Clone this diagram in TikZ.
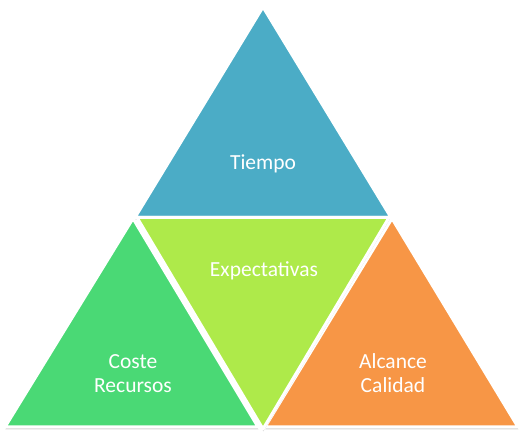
\documentclass[tikz,border=0pt]{standalone}
\usepackage{fontspec}
\setmainfont{Carlito}
\usetikzlibrary{shadows}
\definecolor{cblue}{HTML}{4BACC6}
\definecolor{cgreen}{HTML}{4AD975}
\definecolor{clime}{HTML}{AEEA4A}
\definecolor{corange}{HTML}{F79646}
\tikzset{
  tri/.style={draw=white, line width=3pt, line join=round,
    drop shadow={shadow xshift=0.4pt, shadow yshift=-2.3pt, opacity=0.28, fill=black!60}},
  lbl/.style={text=white, font=\fontsize{21.5}{24}\selectfont, inner sep=0pt, align=center}
}
\begin{document}
\begin{tikzpicture}[x=1pt,y=-1pt]
\useasboundingbox (0,0) rectangle (528,438);
\fill[white] (0,0) rectangle (528,438);
% top
\path[tri, fill=cblue] (263,7) -- (391,217.5) -- (135,217.5) -- cycle;
% left
\path[tri, fill=cgreen] (133,218.5) -- (258,427) -- (5,427) -- cycle;
% right
\path[tri, fill=corange] (392,218.5) -- (518,427) -- (265,427) -- cycle;
% middle
\path[tri, fill=clime] (137,217.5) -- (389,217.5) -- (263,429) -- cycle;
\node[lbl, anchor=base] (tiempo) at (263,170) {Tiempo};
\node[lbl, anchor=base] (expect) at (264,277) {Expectativas};
\node[lbl, anchor=center] (coste) at (133,373.5) {Coste\\Recursos};
\node[lbl, anchor=center] (alcance) at (393,373) {Alcance\\Calidad};
\end{tikzpicture}
\end{document}
